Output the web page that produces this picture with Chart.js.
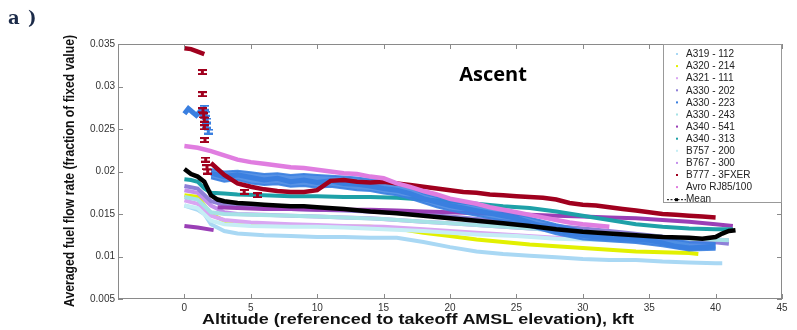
<!DOCTYPE html>
<html>
<head>
<meta charset="utf-8">
<script src="https://cdn.jsdelivr.net/npm/chart.js@4.4.0/dist/chart.umd.min.js"></script>
<style>
html,body{margin:0;padding:0;background:#fff;}
canvas{display:block;}
</style>
</head>
<body>
<canvas id="c" width="797" height="330"></canvas>
<script>
// ---------- DATA ----------
const xTicks = [0, 5, 10, 15, 20, 25, 30, 35, 40, 45];
const yTicks = [0.005, 0.01, 0.015, 0.02, 0.025, 0.03, 0.035];
const yTickLabels = ['0.005', '0.01', '0.015', '0.02', '0.025', '0.03', '0.035'];

const seriesNames = ['A319 - 112', 'A320 - 214', 'A321 - 111', 'A330 - 202', 'A330 - 223', 'A330 - 243',
  'A340 - 541', 'A340 - 313', 'B757 - 200', 'B767 - 300', 'B777 - 3FXER', 'Avro RJ85/100', 'Mean'];

// altitude (kft) / averaged fuel flow (fraction); null = gap
const altA319 = [0, 1, 1.5, 2, 3, 4, 6, 8, 10, 12, 14, 16, 18, 20, 22, 24, 26, 28, 30, 32, 34, 36, 38, 40, 40.5];
const valA319 = [0.0160, 0.0155, 0.0150, 0.0138, 0.0130, 0.0127, 0.0125, 0.0124, 0.0123, 0.0123, 0.0122, 0.0122, 0.0117, 0.0111, 0.0106, 0.0103, 0.0101, 0.0099, 0.0097, 0.0096, 0.0096, 0.0094, 0.0093, 0.0092, 0.0092];

const altA320 = [0, 1, 2, 3, 4, 6, 8, 10, 12, 14, 16, 18, 20, 22, 24, 26, 28, 30, 32, 34, 36, 38, 38.7];
const valA320 = [0.0172, 0.0170, 0.0150, 0.0142, 0.0139, 0.0137, 0.0136, 0.0136, 0.0135, 0.0135, 0.0133, 0.0128, 0.0124, 0.0120, 0.0117, 0.0114, 0.0112, 0.0110, 0.0108, 0.0106, 0.0105, 0.0104, 0.0103];

const altA321 = [0, 1, 2, 3, 5, 8, 10, 12, 15, 18, 20, 22, 25, 28, 30, 32, 35, 38, 40];
const valA321 = [0.0166, 0.0162, 0.0148, 0.0143, 0.0140, 0.0138, 0.0137, 0.0136, 0.0135, 0.0132, 0.0130, 0.0128, 0.0125, 0.0122, 0.0121, 0.0120, 0.0118, 0.0117, 0.0116];

const altA330a = [0, 1, 2, 3, 5, 8, 10, 12, 15, 18, 20, 22, 25, 28, 30, 32, 35, 38, 41];
const valA330a = [0.0183, 0.0180, 0.0165, 0.0161, 0.0158, 0.0156, 0.0155, 0.0154, 0.0152, 0.0149, 0.0147, 0.0144, 0.0140, 0.0136, 0.0133, 0.0130, 0.0125, 0.0120, 0.0115];

const altA330b = [0, 0.3, 0.6, 0.9, 1.2, 1.5, 1.8, 2, 3, 4, 5, 6, 7, 8, 9, 10, 11, 12, 13, 14, 15, 16, 17, 18, 19, 20, 21, 22, 23, 24, 25, 26, 27, 28, 29, 30, 31, 32, 33, 34, 35, 36, 37, 38, 39, 40];
const valA330b = [0.0268, 0.0274, 0.0270, 0.0266, 0.0271, 0.0262, null, 0.0198, 0.0194, 0.0196, 0.0193, 0.0190, 0.0192, 0.0188, 0.0190, 0.0187, 0.0189, 0.0186, 0.0185, 0.0183, 0.0180, 0.0178, 0.0174, 0.0168, 0.0164, 0.0160, 0.0157, 0.0154, 0.0151, 0.0148, 0.0145, 0.0140, 0.0135, 0.0130, 0.0127, 0.0125, 0.0123, 0.0122, 0.0121, 0.0120, 0.0119, 0.0116, 0.0112, 0.0110, 0.0111, 0.0112];
// spread (upper / lower extent) of the A330-223 points
const bandAltA330b = [2, 3, 4, 5, 6, 7, 8, 9, 10, 11, 12, 13, 14, 15, 16, 17, 18, 19, 20, 22, 24, 26, 28, 30, 32, 34, 36, 38, 40];
const bandHiA330b = [0.0203, 0.0200, 0.0201, 0.0199, 0.0197, 0.0198, 0.0196, 0.0197, 0.0196, 0.0195, 0.0194, 0.0193, 0.0191, 0.0189, 0.0186, 0.0181, 0.0174, 0.0170, 0.0166, 0.0160, 0.0154, 0.0146, 0.0138, 0.0131, 0.0127, 0.0125, 0.0122, 0.0117, 0.0116];
const bandLoA330b = [0.0192, 0.0188, 0.0190, 0.0186, 0.0184, 0.0185, 0.0182, 0.0183, 0.0181, 0.0182, 0.0180, 0.0178, 0.0177, 0.0174, 0.0172, 0.0168, 0.0163, 0.0158, 0.0154, 0.0148, 0.0142, 0.0135, 0.0126, 0.0120, 0.0118, 0.0116, 0.0112, 0.0107, 0.0108];
const errAltA330b = [1.5, 1.6, 1.7, 1.7, 1.8];
const errValA330b = [0.0275, 0.0268, 0.0260, 0.0254, 0.0247];

const altA330c = [0, 1, 2, 3, 5, 8, 10, 12, 15, 18, 20, 22, 25, 28, 30, 32, 35, 38, 41];
const valA330c = [0.0170, 0.0167, 0.0152, 0.0150, 0.0149, 0.0148, 0.0147, 0.0146, 0.0144, 0.0141, 0.0139, 0.0137, 0.0134, 0.0131, 0.0129, 0.0127, 0.0124, 0.0121, 0.0119];

const altA340a = [0, 1, 2.2, 2.3, 2.5, 4, 6, 8, 10, 12, 14, 16, 18, 20, 22, 24, 26, 28, 30, 32, 34, 36, 38, 40, 41.3];
const valA340a = [0.0136, 0.0134, 0.0131, null, 0.0158, 0.0157, 0.0156, 0.0156, 0.0155, 0.0155, 0.0155, 0.0154, 0.0153, 0.0152, 0.0151, 0.0150, 0.0149, 0.0148, 0.0147, 0.0146, 0.0145, 0.0143, 0.0141, 0.0138, 0.0136];

const altA340b = [0, 0.5, 1, 1.5, 2, 3, 4, 6, 8, 10, 12, 14, 16, 18, 20, 22, 24, 26, 28, 30, 32, 34, 36, 38, 40, 41.3];
const valA340b = [0.0191, 0.0190, 0.0188, 0.0180, 0.0175, 0.0174, 0.0173, 0.0172, 0.0171, 0.0171, 0.0170, 0.0170, 0.0169, 0.0167, 0.0165, 0.0162, 0.0159, 0.0157, 0.0153, 0.0148, 0.0143, 0.0138, 0.0135, 0.0133, 0.0132, 0.0132];

const altB757 = [0, 1, 2, 3, 5, 8, 10, 12, 15, 18, 20, 22, 25, 28, 30, 32, 35, 38];
const valB757 = [0.0160, 0.0157, 0.0142, 0.0138, 0.0136, 0.0135, 0.0135, 0.0134, 0.0132, 0.0130, 0.0128, 0.0126, 0.0124, 0.0121, 0.0120, 0.0119, 0.0117, 0.0115];

const altB767 = [0, 1, 2, 3, 4, 6, 8, 10, 12, 14, 16, 18, 20, 22, 24, 26, 28, 30, 32, 34, 36, 38, 40, 41];
const valB767 = [0.0178, 0.0175, 0.0160, 0.0152, 0.0150, 0.0149, 0.0148, 0.0147, 0.0146, 0.0145, 0.0143, 0.0141, 0.0139, 0.0137, 0.0135, 0.0133, 0.0131, 0.0129, 0.0127, 0.0125, 0.0123, 0.0121, 0.0120, 0.0119];

const altB777 = [0, 0.5, 1, 1.5, 1.8, 2, 2.5, 3, 4, 5, 6, 7, 8, 9, 10, 11, 12, 13, 14, 15, 16, 17, 18, 19, 20, 21, 22, 23, 24, 25, 26, 27, 28, 29, 30, 31, 32, 33, 34, 35, 36, 37, 38, 39, 40];
const valB777 = [0.0345, 0.0344, 0.0341, 0.0338, null, 0.0210, 0.0203, 0.0196, 0.0186, 0.0182, 0.0179, 0.0177, 0.0176, 0.0176, 0.0178, 0.0189, 0.0190, 0.0188, 0.0187, 0.0188, 0.0186, 0.0184, 0.0182, 0.0180, 0.0178, 0.0176, 0.0175, 0.0173, 0.0172, 0.0171, 0.0170, 0.0169, 0.0167, 0.0163, 0.0161, 0.0160, 0.0158, 0.0156, 0.0154, 0.0152, 0.0150, 0.0149, 0.0148, 0.0147, 0.0146];
const errAltB777 = [1.35, 1.35, 1.4, 1.45, 1.5, 1.5, 1.55, 1.6, 1.7, 1.75, 4.5, 5.5];
const errValB777 = [0.0317, 0.0291, 0.0272, 0.0266, 0.0261, 0.0252, 0.0237, 0.0214, 0.0205, 0.0200, 0.0176, 0.0172];

const altAvro = [0, 1, 2, 3, 4, 5, 6, 7, 8, 9, 10, 11, 12, 13, 14, 15, 16, 17, 18, 19, 20, 21, 22, 23, 24, 25, 26, 27, 28, 29, 30, 32];
const valAvro = [0.0230, 0.0228, 0.0224, 0.0219, 0.0214, 0.0211, 0.0209, 0.0207, 0.0205, 0.0204, 0.0202, 0.0200, 0.0198, 0.0197, 0.0194, 0.0192, 0.0186, 0.0182, 0.0177, 0.0173, 0.0168, 0.0165, 0.0162, 0.0158, 0.0155, 0.0152, 0.0149, 0.0146, 0.0143, 0.0140, 0.0138, 0.0135];

const altMean = [0, 0.5, 1, 1.5, 2, 2.5, 3, 4, 5, 6, 7, 8, 9, 10, 12, 14, 16, 18, 20, 22, 24, 26, 28, 30, 32, 34, 36, 38, 39, 40, 40.5, 41, 41.5];
const valMean = [0.0203, 0.0197, 0.0194, 0.0188, 0.0172, 0.0167, 0.0165, 0.0163, 0.0162, 0.0161, 0.0160, 0.0159, 0.0159, 0.0158, 0.0156, 0.0153, 0.0151, 0.0148, 0.0145, 0.0142, 0.0139, 0.0136, 0.0132, 0.0129, 0.0127, 0.0125, 0.0123, 0.0122, 0.0121, 0.0123, 0.0127, 0.0130, 0.0131];

const seriesAlts = [altA319, altA320, altA321, altA330a, altA330b, altA330c, altA340a, altA340b, altB757, altB767, altB777, altAvro, altMean];
const seriesVals = [valA319, valA320, valA321, valA330a, valA330b, valA330c, valA340a, valA340b, valB757, valB767, valB777, valAvro, valMean];

// ---------- STYLE ----------
const colors = ['#a9d8f4', '#e2f000', '#d9a6f2', '#8f80d8', '#3a7fe0', '#a6e2e6', '#9a3fb6', '#1ea1a8', '#c6eef5', '#c490ec', '#a0001e', '#e07de0', '#000000'];
const widths = [4, 4, 4, 4, 5, 4, 4, 4, 4, 4, 4.5, 4.5, 4.5];
const orders = [12, 11, 10, 9, 4, 8, 6, 5, 7, 9, 3, 2, 0];

function pts(a, v) { return a.map((x, i) => ({x: x, y: v[i]})); }

function makeI(color) {
  const c = document.createElement('canvas');
  c.width = 9; c.height = 6;
  const g = c.getContext('2d');
  g.fillStyle = color;
  g.fillRect(0, 0, 9, 2);
  g.fillRect(0, 4, 9, 2);
  g.fillRect(3, 0, 3, 6);
  return c;
}

const datasets = seriesNames.map((n, i) => ({
  label: n,
  data: pts(seriesAlts[i], seriesVals[i]),
  borderColor: colors[i],
  backgroundColor: colors[i],
  borderWidth: widths[i],
  pointRadius: 0,
  tension: 0,
  spanGaps: false,
  order: orders[i]
}));
// A330-223 spread band (drawn under its line)
datasets.push({
  label: '_bandHi', data: pts(bandAltA330b, bandHiA330b), borderColor: 'rgba(58,127,224,0.9)',
  borderWidth: 2, pointRadius: 0, tension: 0, fill: false, order: 4.5
});
datasets.push({
  label: '_bandLo', data: pts(bandAltA330b, bandLoA330b), borderColor: 'rgba(58,127,224,0.9)',
  backgroundColor: 'rgba(58,127,224,0.85)', borderWidth: 2, pointRadius: 0, tension: 0,
  fill: '-1', order: 4.5
});
datasets.push({
  label: '_errB777', data: pts(errAltB777, errValB777), showLine: false,
  pointStyle: makeI('#a0001e'), pointRadius: 4, borderColor: '#a0001e', backgroundColor: '#a0001e', order: 1
});
datasets.push({
  label: '_errA330', data: pts(errAltA330b, errValA330b), showLine: false,
  pointStyle: makeI('#3a7fe0'), pointRadius: 4, borderColor: '#3a7fe0', backgroundColor: '#3a7fe0', order: 1
});

const FONT = '"Liberation Sans", Arial, sans-serif';

const decor = {
  id: 'decor',
  afterDraw(chart) {
    const ctx = chart.ctx;
    const a = chart.chartArea;
    const xs = chart.scales.x, ys = chart.scales.y;
    ctx.save();
    // frame
    ctx.strokeStyle = '#8a8a8a';
    ctx.lineWidth = 1;
    ctx.strokeRect(a.left + 0.5, a.top + 0.5, a.right - a.left - 1, a.bottom - a.top - 1);
    // inward ticks
    ctx.beginPath();
    xTicks.forEach(t => {
      const px = Math.round(xs.getPixelForValue(t)) + 0.5;
      ctx.moveTo(px, a.bottom); ctx.lineTo(px, a.bottom - 5);
      ctx.moveTo(px, a.top); ctx.lineTo(px, a.top + 5);
    });
    yTicks.forEach(t => {
      const py = Math.round(ys.getPixelForValue(t)) + 0.5;
      ctx.moveTo(a.left, py); ctx.lineTo(a.left + 5, py);
      ctx.moveTo(a.right, py); ctx.lineTo(a.right - 5, py);
    });
    ctx.stroke();

    // legend box
    const lx = 663, ly = a.top, lw = a.right - 663, lh = 159;
    ctx.fillStyle = '#fff';
    ctx.fillRect(lx, ly, lw, lh);
    ctx.strokeStyle = '#999';
    ctx.strokeRect(lx + 0.5, ly + 0.5, lw - 1, lh - 1);
    ctx.font = '10px ' + FONT;
    ctx.textBaseline = 'middle';
    ctx.textAlign = 'left';
    seriesNames.forEach((n, i) => {
      const y = 54 + i * 12.1;
      if (i === seriesNames.length - 1) {
        ctx.strokeStyle = '#000';
        ctx.lineWidth = 1;
        ctx.setLineDash([2, 1.5]);
        ctx.beginPath(); ctx.moveTo(667, y + 0.5); ctx.lineTo(686, y + 0.5); ctx.stroke();
        ctx.setLineDash([]);
        ctx.fillStyle = '#000';
        ctx.fillRect(675, y - 1, 3, 3);
      } else {
        ctx.fillStyle = colors[i];
        ctx.fillRect(676, y - 1, 2, 2);
      }
      ctx.fillStyle = '#222';
      ctx.fillText(n, 686, y + 0.5);
    });

    // axis titles (condensed)
    ctx.fillStyle = '#111';
    ctx.font = 'bold 14px ' + FONT;
    ctx.textAlign = 'center';
    ctx.textBaseline = 'middle';
    const yt = 'Averaged fuel flow rate (fraction of fixed value)';
    const yw = ctx.measureText(yt).width;
    ctx.save();
    ctx.translate(70, 171);
    ctx.rotate(-Math.PI / 2);
    ctx.scale(272 / yw, 1);
    ctx.fillText(yt, 0, 0);
    ctx.restore();
    const xt = 'Altitude (referenced to takeoff AMSL elevation), kft';
    const xw = ctx.measureText(xt).width;
    ctx.save();
    ctx.translate(418, 320);
    ctx.scale(432 / xw, 1);
    ctx.fillText(xt, 0, 0);
    ctx.restore();

    // panel label
    ctx.fillStyle = '#1b2a48';
    ctx.font = 'bold 18px "DejaVu Serif", "Liberation Serif", serif';
    ctx.textAlign = 'left';
    ctx.textBaseline = 'alphabetic';
    ctx.fillText('a', 8, 24);
    ctx.fillText(')', 28, 24);

    // inner title
    ctx.fillStyle = '#000';
    ctx.font = 'bold 20px "Open Sans", sans-serif';
    ctx.textAlign = 'center';
    ctx.textBaseline = 'middle';
    ctx.fillText('Ascent', 493, 75);
    ctx.restore();
  }
};

new Chart(document.getElementById('c'), {
  type: 'line',
  data: { datasets: datasets },
  options: {
    responsive: false,
    animation: false,
    layout: { padding: { left: 0, right: 15, top: 44, bottom: 0 } },
    plugins: { legend: { display: false }, tooltip: { enabled: false }, filler: { propagate: false } },
    scales: {
      x: {
        type: 'linear', min: -5, max: 45,
        afterBuildTicks: s => { s.ticks = xTicks.map(v => ({ value: v })); },
        afterFit: s => { s.height = 31; },
        grid: { display: false, drawTicks: false },
        border: { display: false },
        ticks: { color: '#333', padding: 3, font: { size: 10, family: FONT }, maxRotation: 0, autoSkip: false }
      },
      y: {
        type: 'linear', min: 0.005, max: 0.035,
        afterBuildTicks: s => { s.ticks = yTicks.map(v => ({ value: v })); },
        afterFit: s => { s.width = 118; },
        grid: { display: false, drawTicks: false },
        border: { display: false },
        ticks: {
          color: '#333', padding: 3, font: { size: 10, family: FONT }, autoSkip: false,
          callback: (v) => { const i = yTicks.findIndex(t => Math.abs(t - v) < 1e-9); return i >= 0 ? yTickLabels[i] : ''; }
        }
      }
    }
  },
  plugins: [decor]
});
</script>
</body>
</html>
